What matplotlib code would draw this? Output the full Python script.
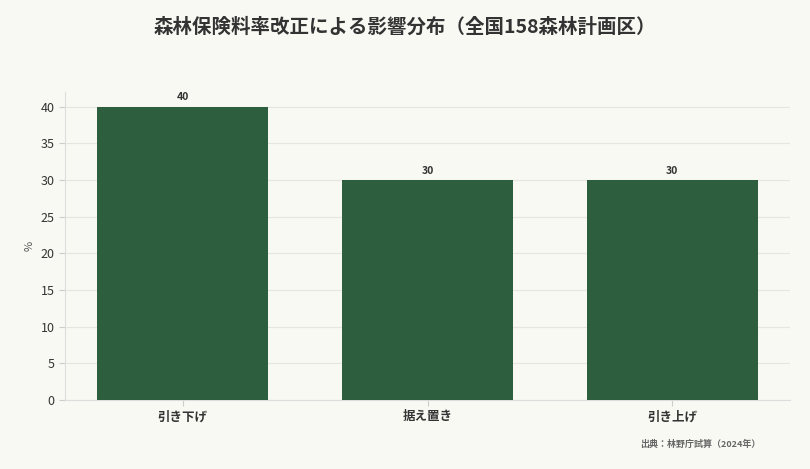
import matplotlib
matplotlib.use("Agg")
import matplotlib.pyplot as plt

plt.rcParams['font.family'] = ['Noto Sans CJK JP', 'DejaVu Sans']

categories = ['引き下げ', '据え置き', '引き上げ']
values = [40, 30, 30]
yticks = [0, 5, 10, 15, 20, 25, 30, 35, 40]

bg = '#f9f9f4'
fig = plt.figure(figsize=(8.1, 4.69), dpi=100, facecolor=bg)
ax = fig.add_axes([65/810, 1-400/469, 725/810, 308/469], facecolor=bg)

x = range(len(categories))
bars = ax.bar(x, values, width=0.7, color='#2d5e3e', zorder=3)
for xi, v in zip(x, values):
    ax.text(xi, v + 0.6, f'{v}', ha='center', va='bottom', fontsize=7.5,
            fontweight='bold', color='#333333')

ax.set_xlim(-0.48, 2.48)
ax.set_ylim(0, 42)
ax.set_yticks(yticks)
ax.set_xticks(list(x))
ax.set_xticklabels(categories, fontsize=9, fontweight='bold', color='#333333')
ax.tick_params(axis='y', labelsize=9, colors='#333333', length=4, color='#cccccc')
ax.tick_params(axis='x', length=4, color='#cccccc')
ax.yaxis.grid(True, color='#e6e6e0', linewidth=0.8, zorder=0)
for s in ['top', 'right']:
    ax.spines[s].set_visible(False)
for s in ['left', 'bottom']:
    ax.spines[s].set_color('#dddddd')
ax.set_ylabel('%', fontsize=8, color='#555555')

fig.text(0.5, 1-27/469, '森林保険料率改正による影響分布（全国158森林計画区）',
         ha='center', va='center', fontsize=14, fontweight='bold', color='#333333')
fig.text(760/810, 1-444/469, '出典：林野庁試算（2024年）', ha='right', va='center',
         fontsize=6.5, fontweight='bold', color='#666666')

fig.savefig('out.png', dpi=100, facecolor=bg)
